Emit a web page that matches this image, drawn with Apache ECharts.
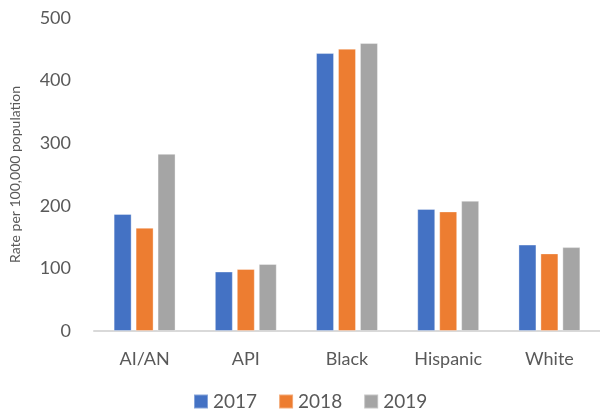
<!DOCTYPE html>
<html>
<head>
<meta charset="utf-8">
<script src="https://cdn.jsdelivr.net/npm/echarts@6/dist/echarts.min.js"></script>
<style>
  html, body { margin: 0; padding: 0; background: #fff; }
  #chart { width: 600px; height: 414px; }
</style>
</head>
<body>
<div id="chart"></div>
<script>
// Rates per 100,000 population by group and year
const categories = ['AI/AN', 'API', 'Black', 'Hispanic', 'White'];
const years = ['2017', '2018', '2019'];
const values2017 = [187, 95, 444, 195, 138];
const values2018 = [165, 99, 451, 191, 124];
const values2019 = [283, 107, 460, 208, 134];
const yTicks = [0, 100, 200, 300, 400, 500];
const colors = ['#4472C4', '#ED7D31', '#A5A5A5'];

const font = 'Lato, "Open Sans", sans-serif';
const seriesValues = [values2017, values2018, values2019];

const chart = echarts.init(document.getElementById('chart'));
chart.setOption({
  animation: false,
  color: colors,
  grid: { left: 93, right: -2, top: 18, bottom: 83 },
  legend: {
    top: 387,
    left: 188,
    itemWidth: 14,
    itemHeight: 14,
    itemGap: 21,
    icon: 'rect',
    textStyle: { fontFamily: font, fontSize: 19, color: '#595959' },
    data: years
  },
  xAxis: {
    type: 'category',
    data: categories,
    axisLine: { lineStyle: { color: '#D9D9D9', width: 2 } },
    axisTick: { show: false },
    axisLabel: { fontFamily: font, fontSize: 18, color: '#595959', margin: 19 }
  },
  yAxis: {
    type: 'value',
    min: yTicks[0],
    max: yTicks[yTicks.length - 1],
    interval: 100,
    name: 'Rate per 100,000 population',
    nameLocation: 'middle',
    nameGap: 72,
    nameTextStyle: { fontFamily: font, fontSize: 14, color: '#595959' },
    axisLine: { show: false },
    axisTick: { show: false },
    splitLine: { show: false },
    axisLabel: { fontFamily: font, fontSize: 18, color: '#595959', margin: 23 }
  },
  series: years.map((y, i) => ({
    name: y,
    type: 'bar',
    data: seriesValues[i],
    barWidth: 18,
    barGap: '22%',
    itemStyle: { borderColor: 'rgba(255,255,255,0.35)', borderWidth: 1 }
  }))
});
</script>
</body>
</html>
